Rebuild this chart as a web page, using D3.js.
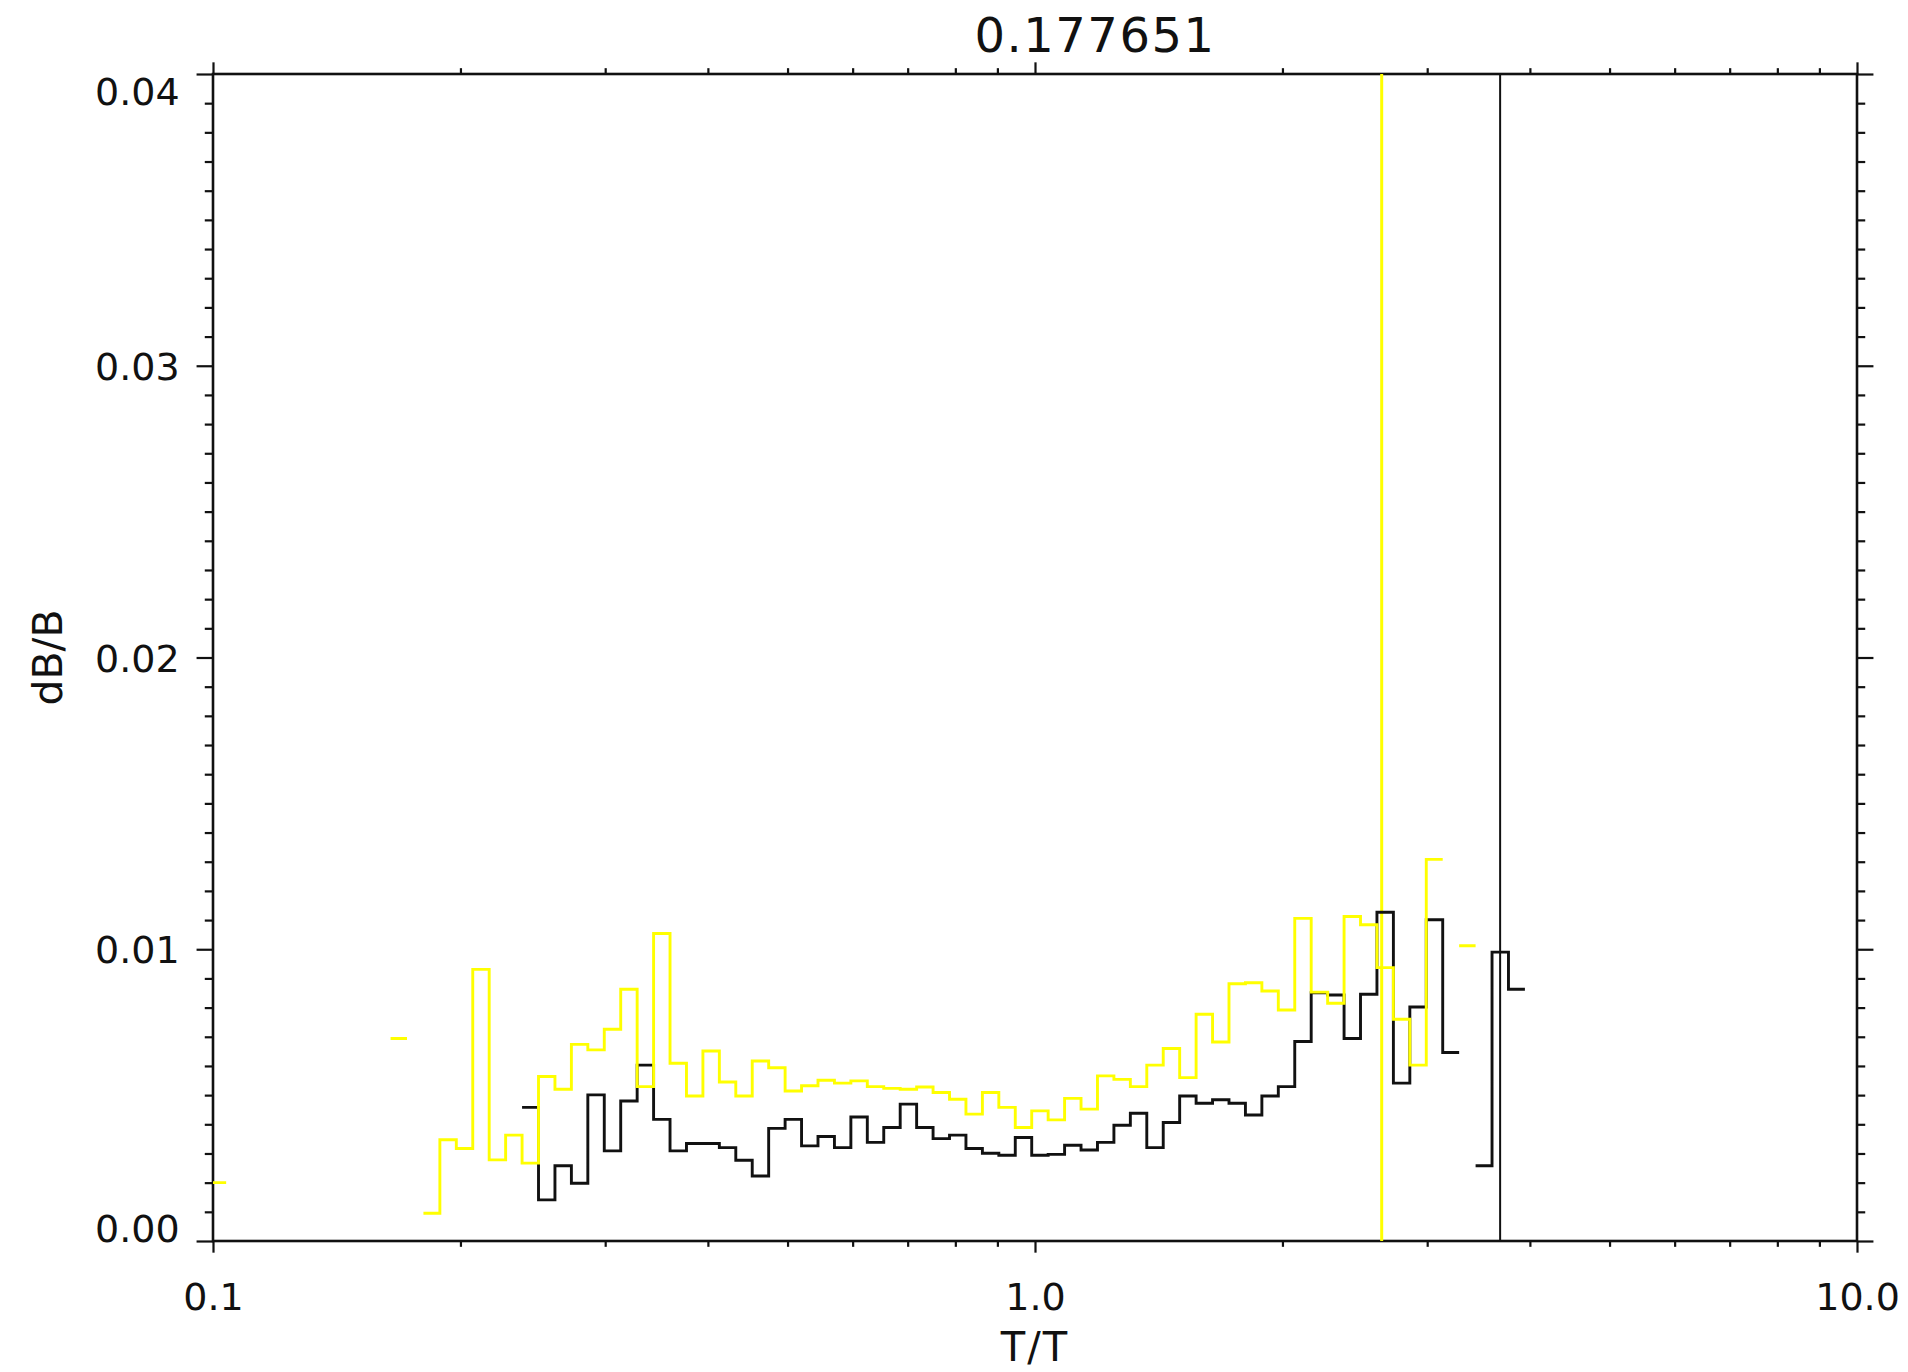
<!DOCTYPE html>
<html>
<head>
<meta charset="utf-8">
<script src="https://cdn.jsdelivr.net/npm/d3@7"></script>
<style>
  html, body { margin: 0; padding: 0; background: #fff; }
  svg { display: block; }
  text { font-family: "DejaVu Sans", "Liberation Sans", sans-serif; fill: #111; }
</style>
</head>
<body>
<svg id="chart" width="1908" height="1372"></svg>
<script>
// Histogram bins: uniform in log10(T/T), first left edge and bin width (dex)
const binLogStart = -1.004;
const binLogWidth = 0.02;

// dB/B per bin, in units of 0.001 (null = empty bin)
const yellowValues = [
  2.0, null, null, null, null, null, null, null, null, null,
  null, 6.94, null, 0.95, 3.47, 3.17, 9.31, 2.78, 3.63, 2.67,
  5.64, 5.2, 6.74, 6.55, 7.26, 8.63, 5.29, 10.54, 6.09, 4.97,
  6.51, 5.45, 4.97, 6.17, 5.94, 5.14, 5.32, 5.51, 5.41, 5.49,
  5.29, 5.23, 5.2, 5.28, 5.09, 4.86, 4.35, 5.09, 4.58, 3.89,
  4.46, 4.15, 4.89, 4.52, 5.66, 5.54, 5.29, 6.03, 6.6, 5.6,
  7.77, 6.82, 8.82, 8.85, 8.57, 7.92, 11.06, 8.53, 8.15, 11.12,
  10.84, 9.37, 7.6, 6.03, 13.08, null, 10.12, null, null, null
];
const blackValues = [
  null, null, null, null, null, null, null, null, null, null,
  null, null, null, null, null, null, null, null, null, 4.58,
  1.41, 2.58, 1.98, 5.01, 3.09, 4.8, 6.03, 4.17, 3.09, 3.34,
  3.34, 3.2, 2.77, 2.23, 3.86, 4.17, 3.26, 3.58, 3.2, 4.25,
  3.38, 3.89, 4.69, 3.89, 3.51, 3.63, 3.17, 3.01, 2.94, 3.55,
  2.94, 2.97, 3.28, 3.12, 3.38, 3.97, 4.38, 3.2, 4.06, 4.97,
  4.72, 4.84, 4.72, 4.32, 4.97, 5.29, 6.84, 8.51, 8.43, 6.94,
  8.46, 11.27, 5.41, 8.02, 11.01, 6.46, null, 2.58, 9.9, 8.63
];
const valueUnit = 0.001;

// Reference markers (T/T)
const yellowMarker = 2.641;
const blackMarker = 3.68;

const titleText = "0.177651";
const xTitle = "T/T";
const yTitle = "dB/B";
const xMajorTicks = [0.1, 1, 10];
const yMajorTicks = [0, 0.01, 0.02, 0.03, 0.04];

(function draw() {
  const svg = d3.select("#chart");
  const pLeft = 213, pRight = 1857, pTop = 74, pBottom = 1241;
  const W = pRight - pLeft, H = pBottom - pTop;

  const x = d3.scaleLog().domain([0.1, 10]).range([pLeft, pRight]);
  const y = d3.scaleLinear().domain([0, 0.04]).range([pBottom, pTop]);

  svg.append("rect").attr("width", 1908).attr("height", 1372).attr("fill", "#fff");

  svg.append("defs").append("clipPath").attr("id", "plotClip")
    .append("rect").attr("x", pLeft).attr("y", pTop).attr("width", W).attr("height", H);

  // minor tick values
  const xMinor = [];
  [0.1, 1].forEach(d => { for (let m = 2; m <= 9; m++) xMinor.push(d * m); });
  const yMinor = d3.range(0, 41).filter(i => i % 10 !== 0).map(i => i / 1000);

  const xMajLen = 0.01 * H, xMinLen = xMajLen / 2;
  const yMajLen = 0.01 * W, yMinLen = yMajLen / 2;

  function styleAxis(g) {
    g.select(".domain").remove();
    g.selectAll(".tick line").attr("stroke", "#111").attr("stroke-width", 2.2);
  }
  function styleLabels(g) {
    g.selectAll("text").attr("font-size", 38).attr("fill", "#111")
      .style("font-family", "'DejaVu Sans', sans-serif");
  }

  // bottom axis
  svg.append("g").attr("transform", `translate(0,${pBottom})`)
    .call(d3.axisBottom(x).tickValues(xMinor).tickSize(xMinLen).tickFormat(""))
    .call(styleAxis);
  svg.append("g").attr("transform", `translate(0,${pBottom})`)
    .call(d3.axisBottom(x).tickValues(xMajorTicks).tickSize(xMajLen).tickPadding(30)
      .tickFormat(d3.format(".1f")))
    .call(styleAxis)
    .call(styleLabels);

  // top axis
  svg.append("g").attr("transform", `translate(0,${pTop})`)
    .call(d3.axisTop(x).tickValues(xMinor).tickSize(xMinLen).tickFormat(""))
    .call(styleAxis);
  svg.append("g").attr("transform", `translate(0,${pTop})`)
    .call(d3.axisTop(x).tickValues(xMajorTicks).tickSize(xMajLen).tickFormat(""))
    .call(styleAxis);

  // left axis
  svg.append("g").attr("transform", `translate(${pLeft},0)`)
    .call(d3.axisLeft(y).tickValues(yMinor).tickSize(yMinLen).tickFormat(""))
    .call(styleAxis);
  svg.append("g").attr("transform", `translate(${pLeft},0)`)
    .call(d3.axisLeft(y).tickValues(yMajorTicks).tickSize(yMajLen).tickPadding(17)
      .tickFormat(d3.format(".2f")))
    .call(styleAxis)
    .call(styleLabels)
    .call(g => g.selectAll("text")
      .attr("dy", d => d === 0 ? "0em" : (d === 0.04 ? "0.8em" : "0.36em")));

  // right axis
  svg.append("g").attr("transform", `translate(${pRight},0)`)
    .call(d3.axisRight(y).tickValues(yMinor).tickSize(yMinLen).tickFormat(""))
    .call(styleAxis);
  svg.append("g").attr("transform", `translate(${pRight},0)`)
    .call(d3.axisRight(y).tickValues(yMajorTicks).tickSize(yMajLen).tickFormat(""))
    .call(styleAxis);

  // plot frame
  svg.append("rect").attr("x", pLeft).attr("y", pTop).attr("width", W).attr("height", H)
    .attr("fill", "none").attr("stroke", "#111").attr("stroke-width", 2.6);

  // step histogram points: each bin gives its left and right edge at its value
  function stepPoints(values) {
    const pts = [];
    values.forEach((v, i) => {
      if (v === null) { pts.push(null); return; }
      const lo = Math.pow(10, binLogStart + i * binLogWidth);
      const hi = Math.pow(10, binLogStart + (i + 1) * binLogWidth);
      pts.push([lo, v * valueUnit], [hi, v * valueUnit]);
    });
    return pts;
  }
  const stepLine = d3.line()
    .defined(d => d !== null)
    .x(d => x(d[0]))
    .y(d => y(d[1]));

  const plot = svg.append("g").attr("clip-path", "url(#plotClip)");

  // yellow marker line
  plot.append("line")
    .attr("x1", x(yellowMarker)).attr("x2", x(yellowMarker))
    .attr("y1", pTop).attr("y2", pBottom)
    .attr("stroke", "#ffff00").attr("stroke-width", 3);

  plot.append("path").datum(stepPoints(blackValues))
    .attr("d", stepLine).attr("fill", "none")
    .attr("stroke", "#111").attr("stroke-width", 2.9)
    .attr("stroke-linejoin", "miter");

  plot.append("path").datum(stepPoints(yellowValues))
    .attr("d", stepLine).attr("fill", "none")
    .attr("stroke", "#ffff00").attr("stroke-width", 2.9)
    .attr("stroke-linejoin", "miter");

  // black marker line
  plot.append("line")
    .attr("x1", x(blackMarker)).attr("x2", x(blackMarker))
    .attr("y1", pTop).attr("y2", pBottom)
    .attr("stroke", "#111").attr("stroke-width", 2);

  // titles
  svg.append("text").attr("x", 1095).attr("y", 52)
    .attr("text-anchor", "middle").attr("font-size", 48)
    .attr("letter-spacing", 1.5).text(titleText);

  svg.append("text").attr("x", x(1)).attr("y", 1361)
    .attr("text-anchor", "middle").attr("font-size", 40)
    .attr("letter-spacing", 2).text(xTitle);

  svg.append("text")
    .attr("transform", `translate(62,${(pTop + pBottom) / 2}) rotate(-90)`)
    .attr("text-anchor", "middle").attr("font-size", 41).text(yTitle);
})();
</script>
</body>
</html>
